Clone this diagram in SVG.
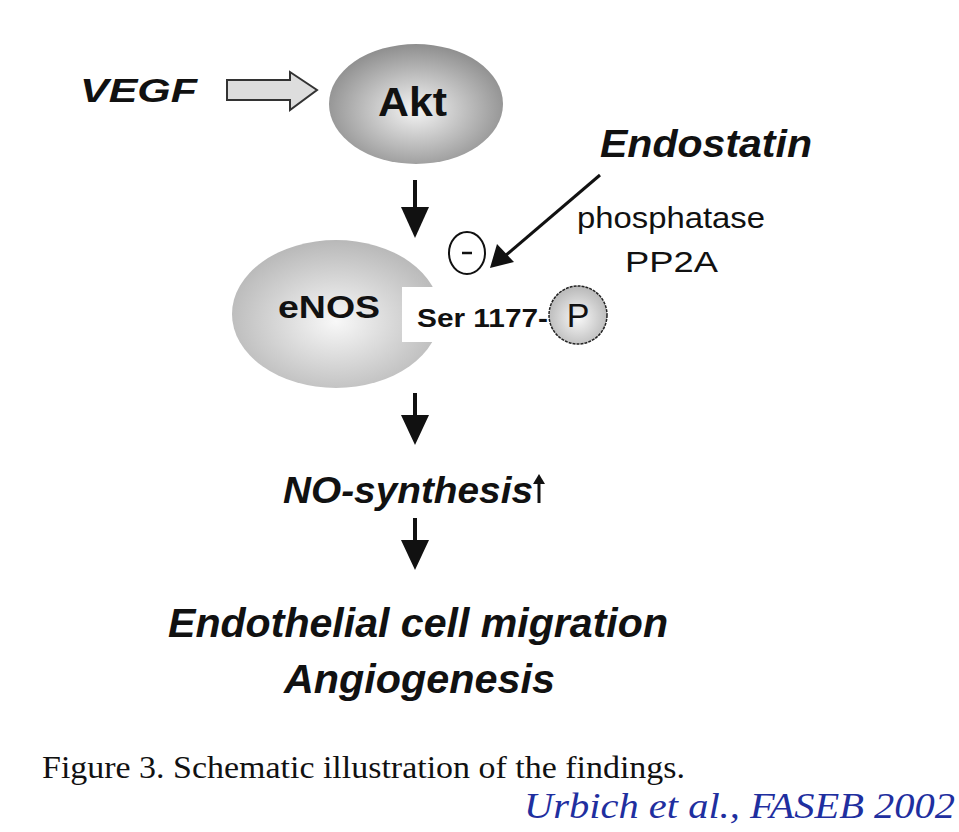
<svg xmlns="http://www.w3.org/2000/svg" width="959" height="832" viewBox="0 0 959 832">
<style>
.b{font-family:"Liberation Sans",Arial,sans-serif;font-weight:bold;fill:#111}
.bi{font-family:"Liberation Sans",Arial,sans-serif;font-weight:bold;font-style:italic;fill:#111}
.r{font-family:"Liberation Sans",Arial,sans-serif;fill:#111}
.ln{stroke:#111;stroke-width:4;fill:none}
</style>
<defs>
<radialGradient id="g1" cx="0.5" cy="0.55" r="0.55"><stop offset="0" stop-color="#f4f4f4"/><stop offset="1" stop-color="#8e8e8e"/></radialGradient>
<radialGradient id="g2" cx="0.5" cy="0.55" r="0.55"><stop offset="0" stop-color="#f8f8f8"/><stop offset="1" stop-color="#b8b8b8"/></radialGradient>
</defs>
<rect width="959" height="832" fill="#fff"/>
<g id="vegf"><text class="bi" x="80" y="102" font-size="34" textLength="117" lengthAdjust="spacingAndGlyphs">VEGF</text></g>
<g id="akt"><ellipse cx="416" cy="104" rx="87" ry="60" fill="url(#g1)"/><text class="b" x="378" y="116" font-size="40" textLength="69" lengthAdjust="spacingAndGlyphs">Akt</text></g>
<g id="endostatin"><text class="bi" x="600" y="157" font-size="38" textLength="212" lengthAdjust="spacingAndGlyphs">Endostatin</text>
<text class="r" x="577" y="228" font-size="29" textLength="188" lengthAdjust="spacingAndGlyphs">phosphatase</text>
<text class="r" x="625" y="272" font-size="29" textLength="93" lengthAdjust="spacingAndGlyphs">PP2A</text></g>
<g id="enos"><ellipse cx="336" cy="314" rx="104" ry="74" fill="url(#g2)"/>
<rect x="402" y="287" width="50" height="55" fill="#fff"/>
<text class="b" x="278" y="318" font-size="32" textLength="102" lengthAdjust="spacingAndGlyphs">eNOS</text>
<text class="b" x="417" y="327" font-size="25" textLength="131" lengthAdjust="spacingAndGlyphs">Ser 1177-</text>
<circle cx="578" cy="315" r="29" fill="url(#g2)" stroke="#222" stroke-width="1.5" stroke-dasharray="3 1"/>
<text class="r" x="578" y="327" font-size="34" text-anchor="middle">P</text></g>
<g id="minus"><ellipse cx="467" cy="253" rx="18" ry="21" fill="#fff" stroke="#111" stroke-width="2"/><line x1="462" y1="253" x2="472" y2="253" stroke="#111" stroke-width="2.5"/></g>
<g id="no"><text class="bi" x="283" y="503" font-size="36" textLength="250" lengthAdjust="spacingAndGlyphs">NO-synthesis</text></g>
<g id="outcome"><text class="bi" x="168" y="637" font-size="40" textLength="500" lengthAdjust="spacingAndGlyphs">Endothelial cell migration</text>
<text class="bi" x="284" y="693" font-size="40" textLength="271" lengthAdjust="spacingAndGlyphs">Angiogenesis</text></g>
<g id="caption"><text x="42" y="778" font-family="Liberation Serif,serif" font-size="31" fill="#111" textLength="643" lengthAdjust="spacingAndGlyphs">Figure 3. Schematic illustration of the findings.</text>
<text x="524" y="818" font-family="Liberation Serif,serif" font-style="italic" font-size="36" fill="#1f2f9f" textLength="431" lengthAdjust="spacingAndGlyphs">Urbich et al., FASEB 2002</text></g>
<g id="connectors">
<path d="M227,80H290V72L317,90L290,110V100H227Z" fill="#ddd" stroke="#333" stroke-width="2"/>
<path d="M415,180V208" class="ln"/><path d="M401,207H429L415,238Z" fill="#111"/>
<path d="M415,393V418" class="ln"/><path d="M401,415H429L415,445Z" fill="#111"/>
<path d="M415,518V543" class="ln"/><path d="M401,540H429L415,570Z" fill="#111"/>
<path d="M539,503V482" stroke="#111" stroke-width="3"/><path d="M533,484H545L539,474Z" fill="#111"/>
<line x1="600" y1="175" x2="505" y2="256" stroke="#111" stroke-width="3"/><path d="M490,268L497,244L514,262Z" fill="#111"/>
</g>
</svg>
